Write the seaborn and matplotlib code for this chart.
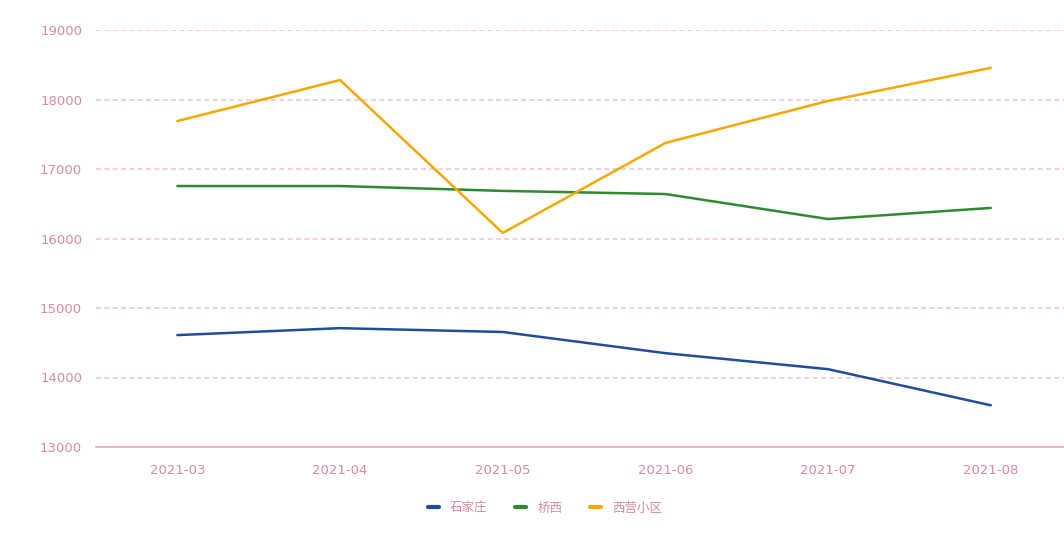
import numpy as np
import pandas as pd
import matplotlib
matplotlib.use('Agg')
import matplotlib.pyplot as plt
import seaborn as sns

months = ['2021-03', '2021-04', '2021-05', '2021-06', '2021-07', '2021-08']
series_names = ['石家庄', '桥西', '西营小区']
shijiazhuang = [14610, 14710, 14655, 14350, 14120, 13600]
qiaoxi = [16755, 16755, 16685, 16640, 16280, 16440]
xiying = [17690, 18280, 16080, 17375, 17980, 18455]
y_ticks = [13000, 14000, 15000, 16000, 17000, 18000, 19000]
colors = ['#1f4c9c', '#2f8a2f', '#f5a800']

sns.set_theme(style='white')
plt.rcParams['font.family'] = ['DejaVu Sans', 'Noto Sans CJK SC']

df = pd.DataFrame({
    'month': months * 3,
    'value': shijiazhuang + qiaoxi + xiying,
    'name': [series_names[0]] * 6 + [series_names[1]] * 6 + [series_names[2]] * 6,
})
df['pos'] = df['month'].map({m: i for i, m in enumerate(months)})

fig = plt.figure(figsize=(10.64, 5.43), dpi=100)
ax = fig.add_axes([96 / 1064, 1 - 447 / 543, 1 - 96 / 1064, (447 - 30) / 543])

sns.lineplot(data=df, x='pos', y='value', hue='name', hue_order=series_names,
             palette=colors, linewidth=1.8, ax=ax, legend=False)

text_color = '#d98aa3'
grid_color = '#f2c6d3'
ax.set_ylim(13000, 19000)
ax.set_xlim(-0.5, 5.45)
ax.set_yticks(y_ticks)
ax.set_yticklabels([str(v) for v in y_ticks])
ax.set_xticks(range(len(months)))
ax.set_xticklabels(months)
ax.tick_params(axis='y', length=0, pad=10, colors=text_color, labelsize=9.5)
ax.tick_params(axis='x', length=4, pad=8, colors=text_color, labelsize=9.5,
               color=grid_color)
for lab in ax.get_xticklabels() + ax.get_yticklabels():
    lab.set_fontstretch('expanded')
ax.yaxis.grid(True, color=grid_color, linestyle=(0, (3, 2)), linewidth=1.2)
ax.set_axisbelow(True)
for side in ['top', 'right', 'left']:
    ax.spines[side].set_visible(False)
ax.spines['bottom'].set_color('#e8a8bc')
ax.spines['bottom'].set_linewidth(1.2)
ax.set_xlabel('')
ax.set_ylabel('')

handles = [plt.Line2D([], [], color=c, linewidth=3) for c in colors]
leg = fig.legend(handles, series_names, loc='center',
                 bbox_to_anchor=(545 / 1064, 1 - 508 / 543),
                 ncol=3, frameon=False, fontsize=9, labelcolor=text_color,
                 handlelength=0.9, columnspacing=2.2, handletextpad=0.9,
                 prop={'family': ['Noto Sans CJK SC', 'DejaVu Sans'], 'size': 9})

fig.savefig('out.png', dpi=100)
